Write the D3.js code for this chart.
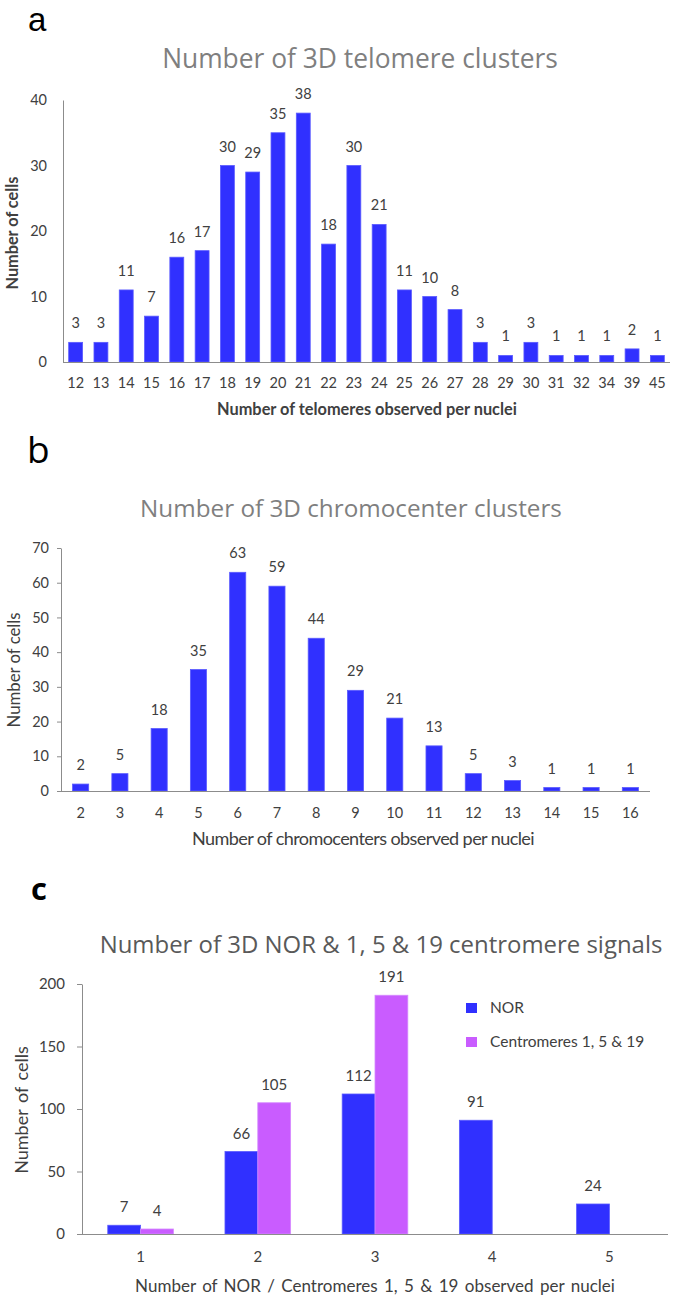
<!DOCTYPE html>
<html><head><meta charset="utf-8">
<script src="https://cdn.jsdelivr.net/npm/d3@7"></script>
<style>
body{margin:0;background:#fff;}
svg{display:block;}
</style></head>
<body>
<script>
// ---- data ----
const catsA = ["12","13","14","15","16","17","18","19","20","21","22","23","24","25","26","27","28","29","30","31","32","34","39","45"];
const valsA = [3,3,11,7,16,17,30,29,35,38,18,30,21,11,10,8,3,1,3,1,1,1,2,1];
const ticksA = [0,10,20,30,40];

const catsB = ["2","3","4","5","6","7","8","9","10","11","12","13","14","15","16"];
const valsB = [2,5,18,35,63,59,44,29,21,13,5,3,1,1,1];
const ticksB = [0,10,20,30,40,50,60,70];

const catsC = ["1","2","3","4","5"];
const seriesC = ["NOR","Centromeres 1, 5 & 19"];
const norC = [7,66,112,91,24];
const cenC = [4,105,191,0,0];
const ticksC = [0,50,100,150,200];

const titles = ["Number of 3D telomere clusters","Number of 3D chromocenter clusters","Number of 3D NOR & 1, 5 & 19 centromere signals"];
const xLabels = ["Number of telomeres observed per nuclei","Number of chromocenters observed per nuclei","Number of NOR / Centromeres 1, 5 & 19 observed per nuclei"];
const yLabel = "Number of cells";
const panels = ["a","b","c"];

const BLUE = "#3030ff", BLUE_EDGE = "#5a5aff";
const PURPLE = "#c95cff", PURPLE_EDGE = "#d58aff";
const AXIS = "#8c8c8c";
const TXT = "#404040";
const FONT = "Lato, 'Open Sans', sans-serif";

const svg = d3.select("body").append("svg").attr("width",675).attr("height",1300)
  .style("font-family",FONT);

function fit(sel, w){ // scale text to target width
  const n = sel.node(); const L = n.getComputedTextLength();
  if (L>0){ const fs = parseFloat(sel.attr("font-size")); sel.attr("font-size", fs*w/L); }
}

// panel letters
svg.append("text").attr("x",28).attr("y",31).attr("font-size",33).attr("font-family","'Liberation Sans', Arial, sans-serif").attr("fill","#000").text(panels[0]);
svg.append("text").attr("x",27).attr("y",463).attr("font-size",37).attr("font-family","'Open Sans', sans-serif").attr("fill","#000").text(panels[1]);
svg.append("text").attr("x",31).attr("y",900).attr("font-size",31).attr("font-weight","bold").attr("font-family","'Open Sans', sans-serif").attr("fill","#000").text(panels[2]);

// ---------- Chart A ----------
{
  const x = d3.scaleBand().domain(catsA).range([63,670]).paddingInner(0.45).paddingOuter(0.225);
  const y = d3.scaleLinear().domain([0,40]).range([362,100]);
  const g = svg.append("g");
  let t = g.append("text").attr("x",360).attr("y",68).attr("text-anchor","middle").attr("font-size",26)
    .attr("font-family","'Open Sans', sans-serif").attr("fill","#7f7f7f").text(titles[0]);
  fit(t,396);
  const ya = d3.axisLeft(y).tickValues(ticksA).tickSize(0).tickPadding(16).tickSizeOuter(0);
  const yg = g.append("g").attr("transform","translate(63,0)").call(ya);
  yg.select(".domain").attr("stroke",AXIS);
  yg.selectAll("text").attr("font-size",14.5).attr("fill",TXT).attr("font-family",FONT);
  g.selectAll("rect.a").data(valsA).join("rect")
    .attr("x",(d,i)=>x(catsA[i])).attr("width",x.bandwidth())
    .attr("y",d=>y(d)).attr("height",d=>y(0)-y(d))
    .attr("fill",BLUE).attr("stroke",BLUE_EDGE).attr("stroke-width",0.8);
  g.selectAll("text.v").data(valsA).join("text").attr("class","v")
    .attr("x",(d,i)=>x(catsA[i])+x.bandwidth()/2).attr("y",d=>y(d)-14)
    .attr("text-anchor","middle").attr("font-size",14.5).attr("fill",TXT).text(d=>d);
  const xa = d3.axisBottom(x).tickSize(0).tickPadding(16).tickSizeOuter(0);
  const xg = g.append("g").attr("transform","translate(0,362)").call(xa);
  xg.select(".domain").attr("stroke",AXIS).attr("d","M63,0.5H670");
  xg.selectAll("text").attr("font-size",14.5).attr("fill",TXT).attr("font-family",FONT);
  t = g.append("text").attr("x",367).attr("y",415).attr("text-anchor","middle").attr("font-size",15)
    .attr("font-weight","bold").attr("fill",TXT).text(xLabels[0]);
  fit(t,300);
  t = g.append("text").attr("transform","translate(18,233) rotate(-90)").attr("text-anchor","middle")
    .attr("font-size",14).attr("font-weight","bold").attr("fill",TXT).text(yLabel);
  fit(t,113);
}

// ---------- Chart B ----------
{
  const x = d3.scaleBand().domain(catsB).range([61,650]).paddingInner(0.59).paddingOuter(0.295);
  const y = d3.scaleLinear().domain([0,70]).range([791,548]);
  const g = svg.append("g");
  let t = g.append("text").attr("x",351).attr("y",517).attr("text-anchor","middle").attr("font-size",25)
    .attr("font-family","'Open Sans', sans-serif").attr("fill","#7f7f7f").text(titles[1]);
  fit(t,422);
  const ya = d3.axisLeft(y).tickValues(ticksB).tickSize(4).tickPadding(8).tickSizeOuter(0);
  const yg = g.append("g").attr("transform","translate(61,0)").call(ya);
  yg.select(".domain").attr("stroke",AXIS);
  yg.selectAll("line").attr("stroke",AXIS);
  yg.selectAll("text").attr("font-size",14.5).attr("fill",TXT).attr("font-family",FONT);
  g.selectAll("rect.b").data(valsB).join("rect")
    .attr("x",(d,i)=>x(catsB[i])).attr("width",x.bandwidth())
    .attr("y",d=>y(d)).attr("height",d=>y(0)-y(d))
    .attr("fill",BLUE).attr("stroke",BLUE_EDGE).attr("stroke-width",0.8);
  g.selectAll("text.v").data(valsB).join("text").attr("class","v")
    .attr("x",(d,i)=>x(catsB[i])+x.bandwidth()/2).attr("y",d=>y(d)-14)
    .attr("text-anchor","middle").attr("font-size",14.5).attr("fill",TXT).text(d=>d);
  const xa = d3.axisBottom(x).tickSize(0).tickPadding(17).tickSizeOuter(0);
  const xg = g.append("g").attr("transform","translate(0,791)").call(xa);
  xg.select(".domain").attr("stroke",AXIS).attr("d","M61,0.5H650");
  xg.selectAll("text").attr("font-size",14.5).attr("fill",TXT).attr("font-family",FONT);
  t = g.append("text").attr("x",363).attr("y",845).attr("text-anchor","middle").attr("font-size",15)
    .attr("letter-spacing","-0.6").attr("fill",TXT).text(xLabels[1]);
  fit(t,337);
  t = g.append("text").attr("transform","translate(20,670) rotate(-90)").attr("text-anchor","middle")
    .attr("font-size",15).attr("fill",TXT).text(yLabel);
  fit(t,115);
}

// ---------- Chart C ----------
{
  const x = d3.scaleBand().domain(catsC).range([82,668]).paddingInner(0.44).paddingOuter(0.22);
  const xs = d3.scaleBand().domain(seriesC).range([0,x.bandwidth()]);
  const y = d3.scaleLinear().domain([0,200]).range([1234,984]);
  const g = svg.append("g");
  let t = g.append("text").attr("x",381).attr("y",953).attr("text-anchor","middle").attr("font-size",25)
    .attr("font-family","'Open Sans', sans-serif").attr("fill","#595959").text(titles[2]);
  fit(t,563);
  const ya = d3.axisLeft(y).tickValues(ticksC).tickSize(5).tickPadding(12).tickSizeOuter(0);
  const yg = g.append("g").attr("transform","translate(82,0)").call(ya);
  yg.select(".domain").attr("stroke",AXIS);
  yg.selectAll("line").attr("stroke",AXIS);
  yg.selectAll("text").attr("font-size",15).attr("fill",TXT).attr("font-family",FONT);
  const rows = catsC.map((c,i)=>({c, v:[norC[i],cenC[i]]}));
  const cols = [BLUE,PURPLE], edges=[BLUE_EDGE,PURPLE_EDGE];
  const grp = g.selectAll("g.grp").data(rows).join("g").attr("transform",d=>`translate(${x(d.c)},0)`);
  grp.selectAll("rect").data(d=>d.v.map((v,k)=>({v,k})).filter(e=>e.v>0)).join("rect")
    .attr("x",e=>xs(seriesC[e.k])).attr("width",xs.bandwidth())
    .attr("y",e=>y(e.v)).attr("height",e=>y(0)-y(e.v))
    .attr("fill",e=>cols[e.k]).attr("stroke",e=>edges[e.k]).attr("stroke-width",0.8);
  grp.selectAll("text").data(d=>d.v.map((v,k)=>({v,k})).filter(e=>e.v>0)).join("text")
    .attr("x",e=>xs(seriesC[e.k])+xs.bandwidth()/2).attr("y",e=>y(e.v)-13)
    .attr("text-anchor","middle").attr("font-size",15).attr("fill",TXT).text(e=>e.v);
  const xa = d3.axisBottom(x).tickSize(0).tickPadding(17).tickSizeOuter(0);
  const xg = g.append("g").attr("transform","translate(0,1234)").call(xa);
  xg.select(".domain").attr("stroke",AXIS).attr("d","M82,0.5H668");
  xg.selectAll("text").attr("font-size",15).attr("fill",TXT).attr("font-family",FONT);
  t = g.append("text").attr("x",375).attr("y",1292).attr("text-anchor","middle").attr("font-size",17)
    .attr("word-spacing","2").attr("fill",TXT).text(xLabels[2]);
  fit(t,480);
  t = g.append("text").attr("transform","translate(28,1110) rotate(-90)").attr("text-anchor","middle")
    .attr("font-size",17).attr("word-spacing","2").attr("fill",TXT).text(yLabel);
  fit(t,128);
  // legend
  const lg = g.append("g").attr("transform","translate(466,1003)");
  const li = lg.selectAll("g").data(seriesC).join("g").attr("transform",(d,i)=>`translate(0,${i*34})`);
  li.append("rect").attr("width",11).attr("height",10).attr("fill",(d,i)=>cols[i]);
  li.append("text").attr("x",24).attr("y",10).attr("font-size",15.5).attr("fill",TXT).text(d=>d);
}
</script>
</body></html>
